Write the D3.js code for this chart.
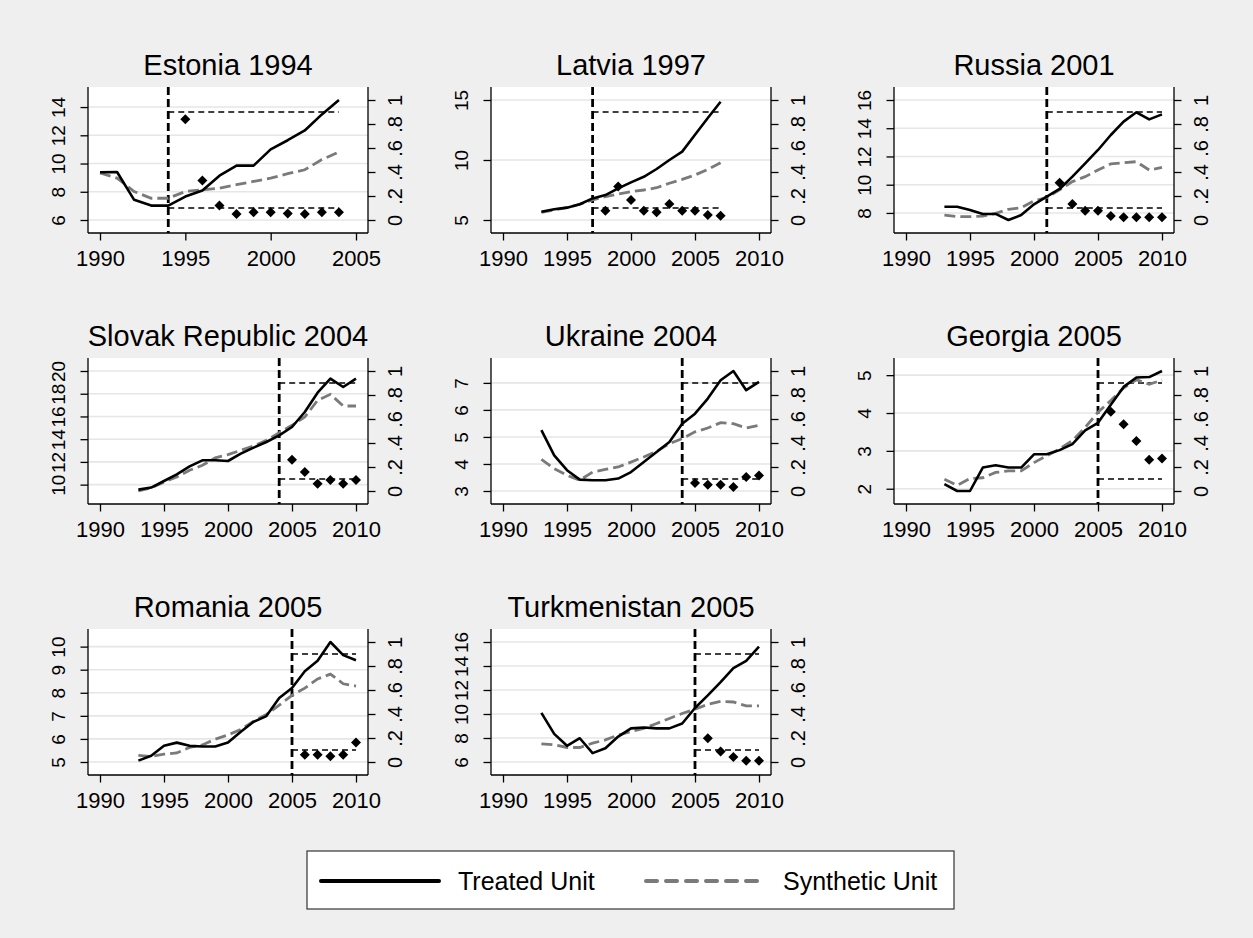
<!DOCTYPE html>
<html>
<head>
<meta charset="utf-8">
<script src="https://cdn.jsdelivr.net/npm/d3@7"></script>
<style>
body { margin: 0; background: #efefef; }
svg { display: block; font-family: "Liberation Sans", Arial, sans-serif; }
</style>
</head>
<body>
<svg id="chart" width="1253" height="938"></svg>
<script>
// panel metadata
const titles = ["Estonia 1994", "Latvia 1997", "Russia 2001", "Slovak Republic 2004",
    "Ukraine 2004", "Georgia 2005", "Romania 2005", "Turkmenistan 2005"];
const treatYears = [1994, 1997, 2001, 2004, 2004, 2005, 2005, 2005];
const firstYears = [1990, 1993, 1993, 1993, 1993, 1993, 1993, 1993];
const leftTicks = [
    [6, 8, 10, 12, 14],
    [5, 10, 15],
    [8, 10, 12, 14, 16],
    [10, 12, 14, 16, 18, 20],
    [3, 4, 5, 6, 7],
    [2, 3, 4, 5],
    [5, 6, 7, 8, 9, 10],
    [6, 8, 10, 12, 14, 16]
];
const xTicksShort = [1990, 1995, 2000, 2005];
const xTicksLong = [1990, 1995, 2000, 2005, 2010];
const rightTicks = [0, 0.2, 0.4, 0.6, 0.8, 1];
const rightTickLabels = ["0", ".2", ".4", ".6", ".8", "1"];
const pBand = [0.1, 0.9];

// treated / synthetic series (from first year) and post-treatment p-values
const estoniaTreated = [9.38, 9.4, 7.43, 7.02, 7.02, 7.66, 8.09, 9.14, 9.85, 9.85, 11.0, 11.65, 12.34, 13.48, 14.5];
const estoniaSynth = [9.33, 8.97, 8.02, 7.54, 7.54, 8.02, 8.14, 8.26, 8.5, 8.73, 8.97, 9.28, 9.56, 10.28, 10.82];
const estoniaP = [0.84, 0.33, 0.12, 0.05, 0.065, 0.065, 0.055, 0.05, 0.065, 0.065];

const latviaTreated = [5.69, 5.89, 6.03, 6.31, 6.8, 7.08, 7.64, 8.14, 8.6, 9.25, 10.0, 10.7, 12.1, 13.5, 14.86];
const latviaSynth = [5.64, 5.83, 6.03, 6.31, 6.67, 6.94, 7.17, 7.36, 7.5, 7.69, 8.06, 8.39, 8.75, 9.22, 9.78];
const latviaP = [0.078, 0.28, 0.167, 0.078, 0.064, 0.133, 0.078, 0.078, 0.042, 0.036];

const russiaTreated = [8.44, 8.44, 8.21, 7.93, 7.93, 7.5, 7.85, 8.61, 9.15, 9.7, 10.57, 11.51, 12.46, 13.52, 14.47, 15.13, 14.63, 14.98];
const russiaSynth = [7.85, 7.74, 7.74, 7.78, 7.97, 8.26, 8.37, 8.85, 9.1, 9.63, 10.22, 10.57, 11.04, 11.47, 11.56, 11.63, 11.04, 11.23];
const russiaP = [0.31, 0.133, 0.078, 0.078, 0.033, 0.022, 0.022, 0.022, 0.022];

const slovakTreated = [9.56, 9.74, 10.32, 10.91, 11.61, 12.14, 12.14, 12.08, 12.73, 13.26, 13.75, 14.34, 15.07, 16.39, 18.09, 19.33, 18.59, 19.33];
const slovakSynth = [9.44, 9.71, 10.23, 10.67, 11.26, 11.7, 12.35, 12.64, 13.02, 13.4, 13.9, 14.57, 15.22, 15.95, 17.42, 17.95, 16.92, 16.92];
const slovakP = [0.26, 0.158, 0.061, 0.092, 0.061, 0.092];

const ukraineTreated = [5.25, 4.32, 3.77, 3.42, 3.4, 3.4, 3.46, 3.7, 4.07, 4.44, 4.81, 5.49, 5.86, 6.42, 7.1, 7.44, 6.73, 7.04];
const ukraineSynth = [4.17, 3.83, 3.58, 3.4, 3.7, 3.8, 3.89, 4.07, 4.26, 4.47, 4.75, 4.94, 5.19, 5.33, 5.53, 5.49, 5.33, 5.43];
const ukraineP = [0.067, 0.053, 0.053, 0.033, 0.117, 0.13];

const georgiaTreated = [2.12, 1.94, 1.94, 2.56, 2.62, 2.56, 2.56, 2.91, 2.91, 3.02, 3.18, 3.54, 3.74, 4.22, 4.69, 4.94, 4.95, 5.11];
const georgiaSynth = [2.25, 2.09, 2.27, 2.29, 2.43, 2.47, 2.47, 2.69, 2.87, 3.05, 3.27, 3.62, 4.02, 4.33, 4.66, 4.88, 4.76, 4.87];
const georgiaP = [0.66, 0.556, 0.417, 0.26, 0.27];

const romaniaTreated = [5.06, 5.27, 5.7, 5.84, 5.7, 5.67, 5.67, 5.84, 6.31, 6.74, 6.99, 7.77, 8.21, 8.93, 9.39, 10.2, 9.63, 9.41];
const romaniaSynth = [5.29, 5.24, 5.34, 5.39, 5.63, 5.74, 5.99, 6.17, 6.41, 6.77, 7.06, 7.46, 7.89, 8.2, 8.6, 8.81, 8.39, 8.29];
const romaniaP = [0.06, 0.06, 0.047, 0.06, 0.162];

const turkmenTreated = [10.09, 8.34, 7.35, 7.98, 6.74, 7.15, 8.12, 8.8, 8.88, 8.8, 8.8, 9.21, 10.5, 11.55, 12.65, 13.83, 14.43, 15.62];
const turkmenSynth = [7.51, 7.43, 7.21, 7.21, 7.57, 7.84, 8.25, 8.53, 8.8, 9.21, 9.63, 10.04, 10.4, 10.81, 11.05, 11.0, 10.67, 10.67];
const turkmenP = [0.198, 0.088, 0.041, 0.011, 0.011];

const treatedSeries = [estoniaTreated, latviaTreated, russiaTreated, slovakTreated, ukraineTreated, georgiaTreated, romaniaTreated, turkmenTreated];
const synthSeries = [estoniaSynth, latviaSynth, russiaSynth, slovakSynth, ukraineSynth, georgiaSynth, romaniaSynth, turkmenSynth];
const pSeries = [estoniaP, latviaP, russiaP, slovakP, ukraineP, georgiaP, romaniaP, turkmenP];

const legendLabels = ["Treated Unit", "Synthetic Unit"];

// layout
const panelW = 280, panelH = 146;
const panelX0 = 88, panelY0 = 87, colStep = 403, rowStep = 271;
const inset = 13;        // stata pads the data range inside the plot region
const tickLen = 7.5;
const synthColor = "#7a7a7a";

const svg = d3.select("#chart");

titles.forEach((title, i) => {
    const col = i % 3, row = Math.floor(i / 3);
    const g = svg.append("g")
        .attr("transform", `translate(${panelX0 + col * colStep},${panelY0 + row * rowStep})`);

    const treated = treatedSeries[i].map((v, k) => ({ year: firstYears[i] + k, value: v }));
    const synth = synthSeries[i].map((v, k) => ({ year: firstYears[i] + k, value: v }));
    const lastYear = treated[treated.length - 1].year;
    const pvals = pSeries[i].map((v, k) => ({ year: lastYear - pSeries[i].length + 1 + k, value: v }));
    const xTicks = lastYear > 2005 ? xTicksLong : xTicksShort;

    const x = d3.scaleLinear()
        .domain(d3.extent([...xTicks, ...treated.map(d => d.year)]))
        .range([12, panelW - 12]);
    const yLeft = d3.scaleLinear()
        .domain(d3.extent([...leftTicks[i], ...treated.map(d => d.value), ...synth.map(d => d.value)]))
        .range([panelH - inset, inset]);
    const yRight = d3.scaleLinear()
        .domain([0, 1])
        .range([panelH - inset, inset]);

    // plot region
    g.append("rect")
        .attr("width", panelW)
        .attr("height", panelH)
        .attr("fill", "#fff");

    // grid lines on the left axis ticks
    g.selectAll(".grid")
        .data(leftTicks[i])
        .enter()
        .append("line")
        .attr("x1", 0)
        .attr("x2", panelW)
        .attr("y1", d => yLeft(d))
        .attr("y2", d => yLeft(d))
        .style("stroke", "#e6e6e6")
        .style("stroke-width", 1.6);

    // title
    svg.append("text")
        .attr("x", panelX0 + col * colStep + panelW / 2)
        .attr("y", panelY0 + row * rowStep - 12)
        .attr("text-anchor", "middle")
        .style("font-size", "29px")
        .style("fill", "#000")
        .text(title);

    // bottom axis
    const xAxis = g.append("g")
        .attr("transform", `translate(0,${panelH})`)
        .call(d3.axisBottom(x).tickValues(xTicks).tickFormat(d3.format("d")).tickSize(tickLen).tickPadding(10));
    xAxis.select(".domain").attr("d", `M0,0H${panelW}`);
    xAxis.selectAll("text").style("font-size", "22px").attr("fill", "#000");

    // left axis with vertical labels
    const leftAxis = g.append("g")
        .call(d3.axisLeft(yLeft).tickValues(leftTicks[i]).tickFormat(d3.format("d")).tickSize(tickLen));
    leftAxis.select(".domain").attr("d", `M0,0V${panelH}`);
    leftAxis.selectAll("text")
        .attr("x", null).attr("dy", null)
        .attr("text-anchor", "middle")
        .attr("transform", "translate(-23,0) rotate(-90)")
        .style("font-size", "19px")
        .attr("fill", "#000");

    // right axis for p-values
    const rightAxis = g.append("g")
        .attr("transform", `translate(${panelW},0)`)
        .call(d3.axisRight(yRight).tickValues(rightTicks).tickFormat((d, k) => rightTickLabels[k]).tickSize(tickLen));
    rightAxis.select(".domain").attr("d", `M0,0V${panelH}`);
    rightAxis.selectAll("text")
        .attr("x", null).attr("dy", null)
        .attr("text-anchor", "middle")
        .attr("transform", "translate(34,0) rotate(-90)")
        .style("font-size", "20px")
        .attr("fill", "#000");

    g.selectAll(".domain, .tick line")
        .style("stroke", "#000")
        .style("stroke-width", 1.3);

    // p-value band
    g.selectAll(".band")
        .data(pBand)
        .enter()
        .append("line")
        .attr("x1", x(treatYears[i]))
        .attr("x2", x(lastYear))
        .attr("y1", d => yRight(d))
        .attr("y2", d => yRight(d))
        .style("stroke", "#000")
        .style("stroke-width", 1.3)
        .style("stroke-dasharray", "6,4");

    // treatment year
    g.append("line")
        .attr("x1", x(treatYears[i]))
        .attr("x2", x(treatYears[i]))
        .attr("y1", 0)
        .attr("y2", panelH)
        .style("stroke", "#000")
        .style("stroke-width", 2.8)
        .style("stroke-dasharray", "8,4");

    const line = d3.line().x(d => x(d.year)).y(d => yLeft(d.value));

    g.append("path")
        .datum(synth)
        .attr("d", line)
        .attr("fill", "none")
        .style("stroke", synthColor)
        .style("stroke-width", 2.8)
        .style("stroke-dasharray", "11,5");

    g.append("path")
        .datum(treated)
        .attr("d", line)
        .attr("fill", "none")
        .style("stroke", "#000")
        .style("stroke-width", 2.6)
        .style("stroke-linejoin", "round");

    g.selectAll(".pval")
        .data(pvals)
        .enter()
        .append("path")
        .attr("d", d3.symbol(d3.symbolDiamond2, 64))
        .attr("transform", d => `translate(${x(d.year)},${yRight(d.value)})`)
        .attr("fill", "#000");
});

// legend
const legend = svg.append("g").attr("transform", "translate(307,851)");
legend.append("rect")
    .attr("width", 647)
    .attr("height", 58)
    .attr("fill", "#fff")
    .style("stroke", "#333")
    .style("stroke-width", 1.2);

const legendItems = legend.selectAll(".item")
    .data(legendLabels)
    .enter()
    .append("g")
    .attr("transform", (d, k) => `translate(${14 + k * 325},30)`);

legendItems.append("line")
    .attr("x1", 0)
    .attr("x2", 118)
    .style("stroke", (d, k) => k === 0 ? "#000" : synthColor)
    .style("stroke-width", 4)
    .style("stroke-linecap", "round")
    .style("stroke-dasharray", (d, k) => k === 0 ? null : "11,9");

legendItems.append("text")
    .attr("x", 137)
    .attr("y", 9)
    .style("font-size", "25px")
    .text(d => d);
</script>
</body>
</html>
